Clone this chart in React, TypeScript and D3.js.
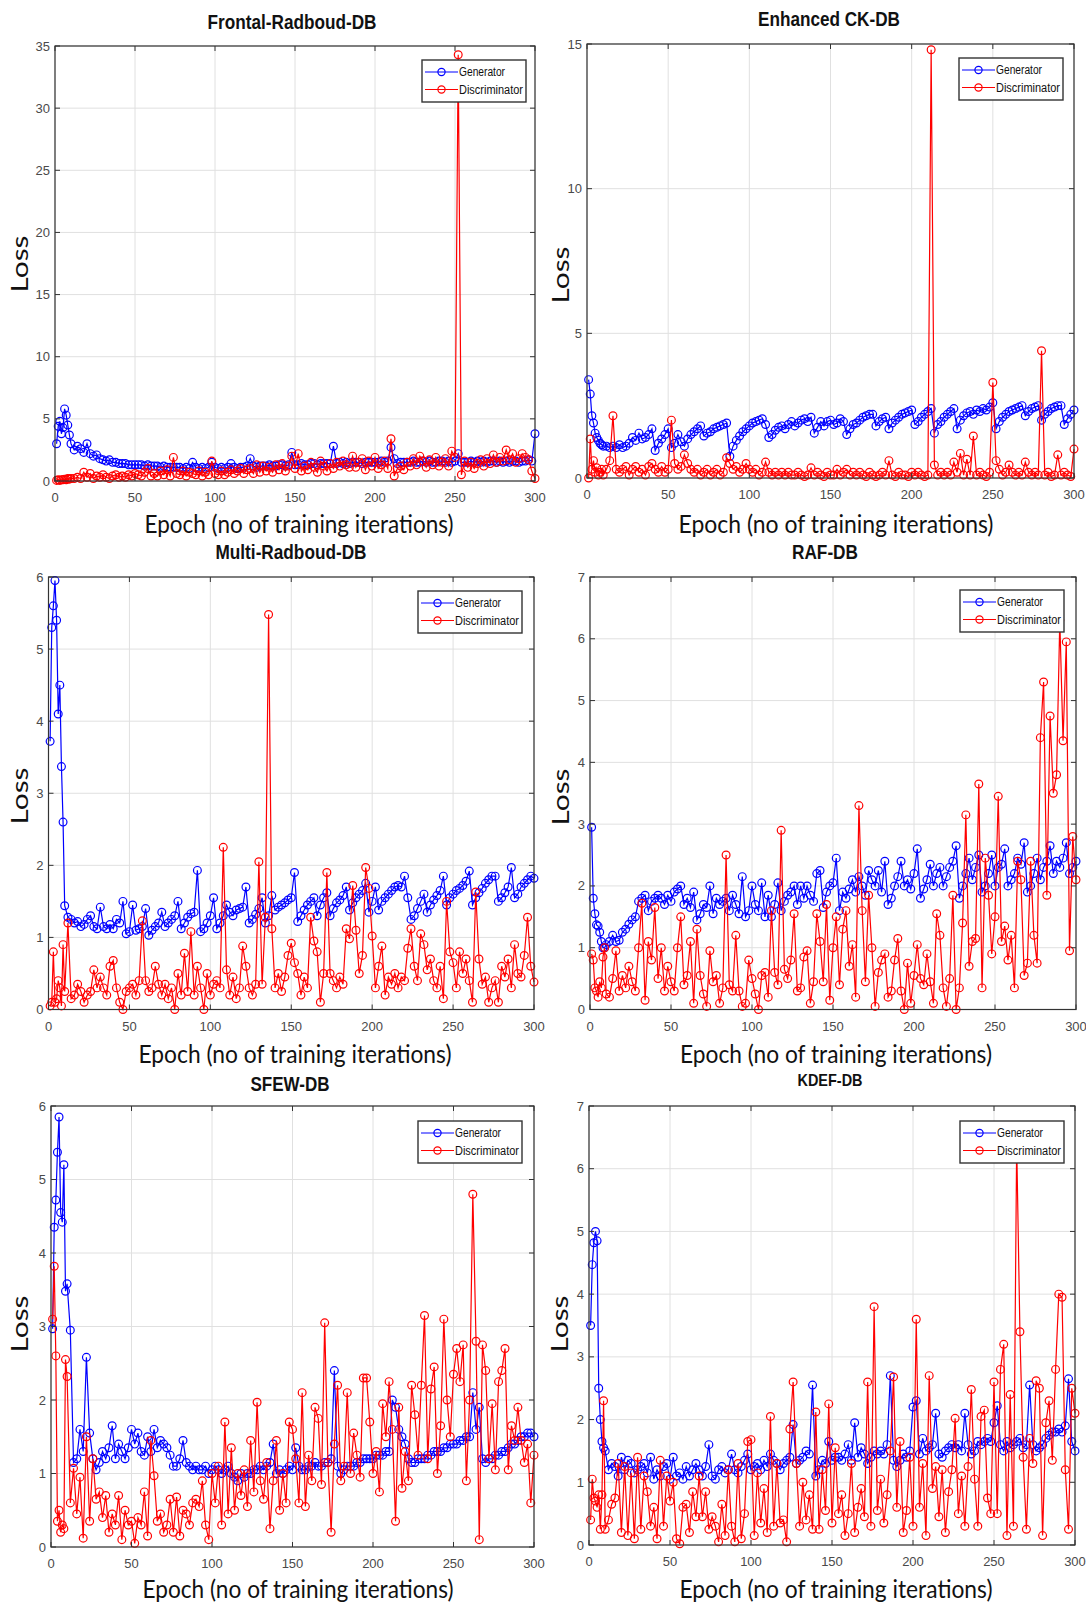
import React from 'react';
import * as d3 from 'd3';

// Epoch positions of the plotted samples (dense for the first 10 epochs)
const EPOCHS: number[] = [...d3.range(1, 11), ...d3.range(12, 301, 2)];
const X_TICKS = [0, 50, 100, 150, 200, 250, 300];
const LEGEND_LABELS = ['Generator', 'Discriminator'];
const X_LABEL = 'Epoch (no of training iterations)';
const Y_LABEL = 'Loss';

const frontalGen = [
  3.0, 4.4, 4.8, 3.8, 4.3, 5.8, 5.3, 4.5, 3.7, 3.0,
  2.5, 2.8, 2.6, 2.3, 3.0, 2.2, 2.0, 2.1, 1.8, 1.7,
  1.6, 1.7, 1.5, 1.5, 1.4, 1.4, 1.4, 1.3, 1.3, 1.3,
  1.3, 1.3, 1.2, 1.3, 1.2, 1.2, 1.2, 1.1, 1.2, 1.1,
  1.1, 1.1, 1.1, 1.1, 1.0, 1.1, 1.0, 1.5, 1.1, 1.0,
  1.1, 1.0, 1.1, 1.5, 1.1, 1.0, 1.1, 1.0, 1.1, 1.4,
  1.1, 1.0, 1.1, 1.1, 1.2, 1.8, 1.2, 1.1, 1.2, 1.2,
  1.2, 1.3, 1.2, 1.2, 1.3, 1.3, 1.2, 1.3, 2.3, 1.3,
  1.3, 1.4, 1.3, 1.3, 1.4, 1.4, 1.3, 1.4, 1.4, 1.4,
  1.4, 2.8, 1.4, 1.5, 1.4, 1.5, 1.4, 1.5, 1.5, 1.5,
  1.4, 1.5, 1.5, 1.5, 1.5, 1.5, 1.6, 1.5, 1.6, 2.7,
  1.8, 1.4, 1.5, 1.5, 1.5, 1.5, 1.6, 1.5, 1.5, 1.6,
  1.5, 1.6, 1.5, 1.5, 1.6, 1.6, 1.5, 1.6, 1.5, 1.6,
  2.2, 1.5, 1.5, 1.5, 1.6, 1.5, 1.6, 1.5, 1.6, 1.5,
  1.6, 1.6, 1.5, 1.6, 1.5, 1.6, 1.5, 1.6, 1.6, 1.5,
  1.6, 1.6, 1.7, 1.6, 3.8,
];
const frontalDis = [
  0.05, 0.1, 0.05, 0.1, 0.1, 0.15, 0.1, 0.2, 0.15, 0.2,
  0.2, 0.3, 0.2, 0.7, 0.3, 0.6, 0.2, 0.4, 0.3, 0.5,
  0.3, 0.2, 0.4, 0.5, 0.3, 0.4, 0.3, 0.5, 0.4, 0.6,
  0.5, 0.4, 0.7, 1.0, 0.4, 0.6, 0.4, 0.8, 0.5, 0.9,
  0.4, 1.9, 0.6, 0.5, 0.8, 0.4, 0.7, 0.6, 0.5, 0.8,
  0.4, 0.7, 0.5, 1.6, 0.6, 0.5, 0.8, 0.5, 0.7, 0.9,
  0.6, 0.8, 1.0, 0.6, 0.9, 1.0, 0.6, 1.3, 0.7, 1.2,
  0.8, 1.1, 0.7, 1.3, 0.9, 1.4, 0.8, 1.2, 2.0, 1.0,
  2.2, 0.8, 1.2, 0.9, 1.5, 1.1, 0.7, 1.6, 1.2, 0.8,
  1.4, 1.0, 1.5, 1.2, 1.6, 1.3, 1.1, 2.0, 1.1, 1.5,
  1.8, 0.9, 1.6, 1.2, 1.9, 1.0, 1.3, 1.6, 1.0, 3.4,
  0.4, 1.0, 1.2, 0.9, 1.5, 1.2, 1.8, 1.3, 2.0, 1.6,
  1.1, 1.7, 1.3, 1.9, 1.2, 1.5, 1.8, 1.2, 2.4, 1.9,
  34.3, 0.5, 1.6, 1.1, 1.5, 1.0, 1.4, 1.7, 1.2, 1.8,
  1.4, 2.1, 1.5, 1.9, 1.6, 2.5, 1.7, 2.2, 1.5, 1.8,
  2.2, 1.9, 1.7, 0.8, 0.2,
];

const ckGen = [
  3.4, 2.9, 2.15, 1.9, 1.55, 1.4, 1.3, 1.2, 1.15, 1.1,
  1.1, 1.05, 1.1, 1.05, 1.15, 1.05, 1.1, 1.2, 1.4, 1.3,
  1.55, 1.35, 1.4, 1.5, 1.7, 0.95, 1.2, 1.35, 1.5, 1.7,
  1.05, 1.2, 1.5, 1.25, 1.1, 1.35, 1.5, 1.6, 1.7, 1.8,
  1.45, 1.55, 1.6, 1.7, 1.75, 1.8, 1.85, 1.9, 0.75, 1.1,
  1.3, 1.45, 1.6, 1.7, 1.8, 1.9, 1.95, 2.0, 2.05, 1.85,
  1.4, 1.5, 1.65, 1.75, 1.8, 1.7, 1.85, 1.95, 1.8, 1.9,
  2.0, 2.05, 1.95, 2.1, 1.55, 1.75, 1.95, 1.8, 1.95, 2.0,
  1.85, 1.9, 2.05, 1.95, 1.5, 1.7, 1.85, 1.9, 2.0, 2.1,
  2.15, 2.2, 2.2, 1.8, 1.95, 2.05, 2.1, 1.7, 1.9, 2.0,
  2.1, 2.2, 2.25, 2.3, 2.35, 1.85, 1.95, 2.1, 2.2, 2.3,
  2.4, 1.55, 1.85, 1.95, 2.1, 2.2, 2.3, 2.4, 1.7, 2.0,
  2.15, 2.25, 2.3, 2.2, 2.35, 2.3, 2.4, 2.35, 2.45, 2.6,
  1.7, 1.95, 2.1, 2.2, 2.3, 2.35, 2.4, 2.45, 2.5, 2.15,
  2.3, 2.4, 2.45, 2.5, 2.0, 2.2, 2.3, 2.4, 2.45, 2.5,
  2.5, 1.85, 2.05, 2.2, 2.35,
];
const ckDis = [
  0.0, 1.35, 0.3, 0.6, 0.2, 0.35, 0.1, 0.2, 0.3, 0.1,
  0.3, 0.6, 2.15, 0.3, 0.2, 0.3, 0.4, 0.1, 0.3, 0.4,
  0.2, 0.3, 0.1, 0.4, 0.5, 0.3, 0.2, 0.4, 0.2, 0.3,
  2.0, 0.5, 0.3, 0.4, 0.8, 0.5, 0.3, 0.2, 0.3, 0.1,
  0.2, 0.3, 0.1, 0.2, 0.3, 0.1, 0.2, 0.7, 0.5, 0.3,
  0.4, 0.2, 0.3, 0.5, 0.3, 0.2, 0.3, 0.1, 0.2, 0.55,
  0.2, 0.1, 0.2, 0.1, 0.2, 0.1, 0.2, 0.1, 0.1, 0.2,
  0.1, 0.05, 0.1, 0.35, 0.1, 0.2, 0.1, 0.05, 0.2, 0.1,
  0.1, 0.3, 0.1, 0.2, 0.3, 0.1, 0.2, 0.1, 0.2, 0.1,
  0.05, 0.2, 0.1, 0.05, 0.1, 0.2, 0.1, 0.6, 0.1, 0.05,
  0.2, 0.1, 0.1, 0.05, 0.2, 0.1, 0.2, 0.1, 0.05, 0.1,
  14.8, 0.45, 0.1, 0.2, 0.1, 0.2, 0.1, 0.55, 0.2, 0.85,
  0.1, 0.65, 0.1, 1.45, 0.1, 0.2, 0.1, 0.05, 0.2, 3.3,
  0.6, 0.3, 0.1, 0.2, 0.45, 0.2, 0.1, 0.2, 0.1, 0.55,
  0.2, 0.1, 0.2, 0.1, 4.4, 0.1, 0.2, 0.05, 0.1, 0.8,
  0.1, 0.2, 0.1, 0.05, 1.0,
];

const multiGen = [
  3.72, 5.3, 5.6, 5.95, 5.4, 4.1, 4.5, 3.37, 2.6, 1.44,
  1.28, 1.25, 1.2, 1.22, 1.15, 1.18, 1.25, 1.3, 1.15, 1.12,
  1.42, 1.15, 1.12, 1.18, 1.12, 1.25, 1.2, 1.5, 1.05, 1.08,
  1.45, 1.1, 1.12, 1.15, 1.4, 1.03, 1.1, 1.15, 1.2, 1.35,
  1.15, 1.2, 1.25, 1.3, 1.5, 1.12, 1.2, 1.28, 1.33, 1.35,
  1.93, 1.08, 1.12, 1.2, 1.3, 1.55, 1.12, 1.2, 1.3, 1.45,
  1.35, 1.3, 1.38, 1.4, 1.42, 1.7, 1.2, 1.25, 1.32, 1.4,
  1.55, 1.2, 1.3, 1.58, 1.38, 1.42, 1.45, 1.48, 1.52, 1.55,
  1.9, 1.22, 1.3, 1.38, 1.45, 1.5, 1.55, 1.3, 1.45, 1.55,
  1.62, 1.3, 1.4, 1.48, 1.52, 1.58, 1.7, 1.38, 1.48, 1.55,
  1.6, 1.65, 1.75, 1.35, 1.5, 1.7, 1.38, 1.5, 1.55, 1.6,
  1.65, 1.7, 1.72, 1.7, 1.85, 1.55, 1.25, 1.3, 1.4, 1.5,
  1.6, 1.35, 1.45, 1.52, 1.58, 1.65, 1.85, 1.45, 1.55, 1.6,
  1.65, 1.68, 1.72, 1.78, 1.92, 1.45, 1.55, 1.62, 1.68, 1.75,
  1.8, 1.85, 1.85, 1.5, 1.55, 1.62, 1.7, 1.97, 1.55, 1.6,
  1.7, 1.75, 1.8, 1.85, 1.82,
];
const multiDis = [
  0.05, 0.1, 0.8, 0.1, 0.15, 0.4, 0.3, 0.05, 0.9, 0.25,
  1.2, 0.15, 0.2, 0.35, 0.25, 0.1, 0.2, 0.25, 0.55, 0.3,
  0.45, 0.3, 0.2, 0.6, 0.68, 0.3, 0.1, 0.0, 0.25, 0.3,
  0.35, 0.2, 0.4, 1.23, 0.4, 0.25, 0.3, 0.6, 0.35, 0.2,
  0.35, 0.15, 0.3, 0.0, 0.5, 0.2, 0.78, 0.25, 1.08, 0.2,
  0.6, 0.3, 0.0, 0.5, 0.2, 0.35, 0.4, 0.3, 2.25, 0.55,
  0.2, 0.45, 0.15, 0.3, 0.88, 0.6, 0.3, 0.2, 0.35, 2.05,
  0.35, 1.28, 5.48, 1.12, 0.3, 0.5, 0.25, 0.45, 0.75, 0.92,
  0.65, 0.5, 0.2, 0.45, 0.3, 1.28, 0.95, 0.8, 0.1, 0.5,
  1.9, 0.5, 0.4, 0.3, 0.45, 0.35, 1.12, 0.98, 1.72, 1.1,
  0.5, 0.75, 1.97, 1.68, 1.02, 0.3, 0.6, 0.88, 0.2, 0.45,
  0.35, 0.5, 0.3, 0.45, 0.4, 0.85, 1.12, 0.6, 0.4, 1.05,
  0.9, 0.55, 0.7, 0.4, 0.3, 0.6, 0.15, 1.5, 0.8, 0.65,
  0.3, 0.8, 0.5, 0.7, 0.4, 0.1, 1.63, 0.7, 0.35, 0.45,
  0.1, 0.3, 0.4, 0.1, 0.6, 0.45, 0.7, 0.3, 0.9, 0.5,
  0.45, 0.75, 1.28, 0.6, 0.38,
];

const rafGen = [
  2.95, 1.8, 1.55, 1.37, 1.35, 1.25, 1.1, 1.0, 1.0, 1.05,
  1.1, 1.2, 1.1, 1.12, 1.25, 1.3, 1.38, 1.45, 1.5, 1.75,
  1.8, 1.85, 1.6, 1.75, 1.8, 1.85, 1.8, 1.7, 1.85, 1.75,
  1.9, 1.95, 2.0, 1.7, 1.8, 1.65, 1.9, 1.45, 1.55, 1.7,
  1.65, 2.0, 1.55, 1.8, 1.7, 1.75, 1.8, 1.6, 1.85, 1.7,
  1.55, 2.15, 1.5, 1.6, 2.0, 1.7, 1.6, 2.05, 1.5, 1.85,
  1.5, 1.7, 2.05, 1.6, 1.75, 1.85, 1.9, 2.0, 1.7, 2.0,
  1.8, 2.0, 1.85, 1.75, 2.2, 2.25, 1.65, 1.9, 2.0, 2.05,
  2.45, 1.6, 1.9, 1.8, 1.95, 2.1, 1.9, 2.15, 2.0, 1.85,
  2.25, 2.1, 2.0, 2.25, 1.9, 2.4, 1.7, 1.8, 2.0, 2.15,
  2.4, 2.0, 2.1, 1.95, 2.2, 2.6, 1.8, 1.95, 2.1, 2.35,
  2.0, 2.2, 2.3, 2.0, 2.15, 2.3, 2.4, 2.65, 1.8, 2.0,
  2.2, 2.45, 2.1, 2.3, 2.5, 1.9, 2.0, 2.2, 2.5, 2.0,
  2.3, 2.35, 2.6, 2.0, 2.1, 2.2, 2.45, 2.35, 2.7, 1.9,
  2.0, 2.2, 2.45, 2.1, 2.3, 2.4, 2.65, 2.2, 2.4, 2.3,
  2.45, 2.7, 2.2, 2.3, 2.4,
];
const rafDis = [
  0.9, 0.8, 0.35, 0.3, 0.2, 0.45, 0.35, 0.85, 1.0, 0.25,
  0.2, 0.5, 0.95, 0.3, 0.55, 0.35, 0.7, 0.45, 0.3, 1.0,
  1.72, 0.15, 1.1, 0.8, 1.65, 0.5, 1.0, 0.3, 0.7, 0.45,
  0.3, 1.0, 1.5, 0.4, 0.55, 1.1, 0.1, 1.3, 0.55, 0.25,
  0.05, 0.95, 0.45, 0.55, 0.1, 0.35, 2.5, 0.4, 0.3, 1.2,
  0.3, 0.05, 0.1, 0.8, 0.5, 0.25, 0.0, 0.55, 0.6, 0.2,
  1.6, 0.6, 0.4, 2.9, 0.65, 0.5, 0.8, 1.55, 0.3, 0.35,
  0.85, 0.95, 0.1, 0.45, 1.55, 1.1, 0.45, 1.7, 0.15, 1.0,
  1.5, 0.4, 1.3, 1.6, 0.7, 1.05, 0.2, 3.3, 1.6, 0.45,
  1.85, 1.0, 0.05, 0.6, 0.8, 0.9, 0.2, 0.3, 0.8, 1.15,
  0.3, 0.0, 0.75, 0.1, 0.55, 1.05, 0.5, 0.4, 0.9, 0.45,
  0.1, 1.55, 1.2, 0.35, 0.05, 0.5, 1.85, 0.0, 0.35, 1.4,
  3.15, 0.7, 1.1, 1.15, 3.65, 0.35, 2.45, 1.85, 0.9, 1.5,
  3.45, 1.1, 1.35, 0.8, 1.2, 0.35, 2.4, 2.1, 0.55, 0.75,
  2.4, 1.2, 0.75, 4.4, 5.3, 1.85, 4.75, 3.5, 3.8, 6.3,
  4.35, 5.95, 0.95, 2.8, 2.1,
];

const sfewGen = [
  2.97, 4.35, 4.72, 5.37, 5.85, 4.55, 4.42, 5.2, 3.48, 3.58,
  2.95, 1.15, 1.2, 1.6, 1.3, 2.58, 1.55, 1.2, 1.05, 1.15,
  1.3, 1.2, 1.35, 1.65, 1.2, 1.4, 1.3, 1.2, 1.35, 1.6,
  1.4, 1.55, 1.3, 1.25, 1.5, 1.3, 1.6, 1.35, 1.45, 1.4,
  1.35, 1.25, 1.1, 1.1, 1.2, 1.45, 1.15, 1.1, 1.05, 1.1,
  1.05, 1.05, 1.1, 1.0, 1.05, 1.1, 1.05, 1.0, 1.05, 1.1,
  1.0, 0.95, 0.9, 1.0, 0.95, 1.0, 1.0, 1.05, 1.05, 1.1,
  1.05, 1.1, 1.15, 1.4, 1.0, 1.05, 1.0, 1.05, 1.1, 1.05,
  1.35, 1.1, 1.05, 1.05, 1.1, 1.1, 1.15, 1.1, 1.1, 1.15,
  1.15, 1.2, 2.4, 1.1, 1.0, 1.05, 1.1, 1.1, 1.1, 1.15,
  1.15, 1.2, 1.2, 1.2, 1.2, 1.25, 1.25, 1.25, 1.3, 1.3,
  2.0, 1.9, 1.6, 1.5, 1.4, 1.2, 1.15, 1.15, 1.2, 1.2,
  1.2, 1.25, 1.25, 1.3, 1.3, 1.3, 1.35, 1.35, 1.4, 1.4,
  1.4, 1.45, 1.45, 1.5, 1.5, 2.1, 1.6, 1.9, 1.2, 1.15,
  1.2, 1.2, 1.25, 1.25, 1.3, 1.3, 1.35, 1.4, 1.4, 1.45,
  1.5, 1.5, 1.55, 1.55, 1.5,
];
const sfewDis = [
  3.1, 3.82, 2.6, 0.35, 0.5, 0.2, 0.3, 0.25, 2.55, 2.32,
  0.6, 1.07, 0.45, 0.95, 0.12, 1.5, 0.35, 1.2, 0.65, 0.75,
  0.4, 0.7, 0.2, 0.45, 0.3, 0.7, 0.1, 0.5, 0.3, 0.35,
  0.05, 0.4, 0.3, 0.75, 0.15, 1.45, 0.97, 0.35, 0.45, 0.2,
  0.3, 0.65, 0.2, 0.68, 0.15, 0.5, 0.45, 0.3, 0.6, 0.65,
  0.55, 0.9, 0.3, 0.1, 1.0, 0.6, 1.1, 0.3, 1.7, 0.45,
  1.35, 0.5, 1.0, 0.7, 1.05, 0.55, 1.45, 0.75, 1.97, 0.9,
  0.65, 1.15, 0.25, 0.9, 1.45, 0.5, 1.0, 0.6, 1.7, 1.6,
  1.2, 0.6, 2.1, 0.55, 1.25, 0.9, 1.9, 1.75, 0.85, 3.05,
  1.15, 0.2, 1.4, 2.2, 0.9, 1.1, 2.1, 1.0, 1.55, 1.25,
  0.95, 2.3, 2.3, 1.7, 1.0, 1.3, 0.75, 1.95, 1.5, 2.25,
  1.6, 0.35, 1.9, 0.8, 1.3, 0.9, 2.2, 1.8, 1.25, 2.2,
  3.15, 1.2, 2.15, 2.45, 1.0, 1.65, 3.1, 2.0, 1.5, 2.35,
  2.7, 2.25, 2.75, 0.9, 2.0, 4.8, 2.8, 0.1, 2.75, 2.4,
  1.2, 1.95, 1.05, 2.25, 2.4, 2.7, 1.05, 1.65, 1.45, 1.9,
  1.45, 1.15, 1.4, 0.6, 1.25,
];

const kdefGen = [
  3.5, 4.47, 4.82, 5.0, 4.85, 2.5, 2.0, 1.65, 1.55, 1.5,
  1.2, 1.3, 1.25, 1.1, 1.4, 1.2, 1.35, 1.3, 1.15, 1.2,
  1.25, 1.3, 1.15, 1.4, 1.05, 1.2, 1.1, 1.25, 1.3, 1.05,
  1.4, 1.1, 1.15, 1.05, 1.25, 1.1, 1.2, 1.3, 1.2, 1.1,
  1.25, 1.6, 1.1, 1.05, 1.2, 1.25, 1.15, 1.2, 1.45, 1.2,
  1.15, 1.25, 1.35, 1.45, 1.2, 1.25, 1.3, 1.2, 1.35, 1.25,
  1.45, 1.35, 1.3, 1.2, 1.3, 1.35, 1.4, 1.92, 1.3, 1.35,
  1.4, 1.5, 1.45, 2.55, 1.1, 1.2, 1.35, 1.3, 1.65, 1.35,
  1.4, 1.4, 1.35, 1.45, 1.6, 1.35, 1.95, 1.4, 1.55, 1.45,
  1.3, 1.4, 1.5, 1.45, 1.5, 1.45, 1.6, 2.7, 1.35, 1.25,
  1.35, 1.45, 1.4, 1.5, 2.2, 2.3, 1.45, 1.7, 1.5, 1.55,
  1.6, 2.1, 1.45, 1.4, 1.5, 1.55, 1.6, 1.55, 1.6, 1.5,
  2.1, 1.6, 1.45, 1.5, 1.65, 1.6, 1.65, 1.7, 1.65, 1.95,
  2.22, 1.6, 1.5, 1.65, 1.55, 1.6, 1.65, 1.7, 1.55, 1.6,
  2.55, 1.6, 1.5, 1.55, 1.6, 1.7, 1.75, 1.8, 1.8, 1.85,
  1.8, 1.9, 2.65, 1.65, 1.5,
];
const kdefDis = [
  0.4, 1.05, 0.75, 0.7, 0.6, 0.8, 0.25, 0.8, 2.3, 0.25,
  0.4, 0.65, 0.75, 1.3, 0.2, 1.25, 0.15, 1.15, 0.1, 1.4,
  0.25, 1.1, 0.85, 0.3, 0.6, 0.1, 1.35, 0.3, 1.1, 0.7,
  1.0, 0.1, 0.02, 0.6, 0.65, 0.2, 0.85, 0.45, 1.1, 0.45,
  0.85, 0.25, 0.45, 0.3, 0.05, 0.65, 0.15, 1.2, 0.3, 0.05,
  1.3, 0.1, 0.5, 1.65, 1.68, 0.15, 1.15, 0.35, 0.9, 0.2,
  2.05, 0.3, 1.3, 0.35, 0.4, 0.05, 1.85, 2.6, 1.3, 0.3,
  1.0, 0.4, 0.8, 0.25, 2.12, 0.25, 1.2, 0.55, 2.25, 0.35,
  1.55, 0.5, 0.8, 0.15, 0.5, 1.3, 0.2, 0.6, 0.9, 0.45,
  2.6, 0.3, 3.8, 0.55, 1.05, 0.35, 0.8, 1.5, 2.68, 0.6,
  1.65, 0.2, 0.55, 1.4, 0.3, 3.6, 0.6, 1.3, 0.15, 2.7,
  0.9, 1.25, 0.45, 1.2, 0.2, 0.85, 1.2, 2.02, 0.5, 1.1,
  0.3, 1.25, 2.48, 1.05, 0.3, 2.05, 2.15, 0.75, 0.5, 2.6,
  0.5, 2.8, 3.2, 0.15, 2.4, 0.3, 6.4, 3.4, 1.4, 0.25,
  1.7, 1.3, 2.62, 2.5, 0.15, 1.95, 2.3, 1.35, 2.8, 4.0,
  3.95, 1.2, 0.25, 2.5, 2.1,
];

const TITLES = ['Frontal-Radboud-DB', 'Enhanced CK-DB', 'Multi-Radboud-DB', 'RAF-DB', 'SFEW-DB', 'KDEF-DB'];
const Y_MAX = [35, 15, 6, 7, 6, 7];
const Y_STEP = [5, 5, 1, 1, 1, 1];
const GEN_SERIES = [frontalGen, ckGen, multiGen, rafGen, sfewGen, kdefGen];
const DIS_SERIES = [frontalDis, ckDis, multiDis, rafDis, sfewDis, kdefDis];

// Layout (pixel geometry of each panel)
const LAYOUT = [
  { l: 55, r: 535, t: 46, b: 481, titleX: 292, titleY: 29, titleW: 169, titleFs: 20, xlX: 299, xlY: 533, xlW: 309, lossX: 28, lossY: 264, legX: 422, legY: 60 },
  { l: 587, r: 1074, t: 44, b: 478, titleX: 829, titleY: 26, titleW: 142, titleFs: 20, xlX: 836, xlY: 533, xlW: 315, lossX: 569, lossY: 275, legX: 959, legY: 58 },
  { l: 48.5, r: 534, t: 577, b: 1009.5, titleX: 291, titleY: 559, titleW: 151, titleFs: 20, xlX: 295, xlY: 1063, xlW: 313, lossX: 28, lossY: 796, legX: 418, legY: 591 },
  { l: 590, r: 1076, t: 577, b: 1009.5, titleX: 825, titleY: 559, titleW: 66, titleFs: 20, xlX: 836, xlY: 1063, xlW: 312, lossX: 569, lossY: 797, legX: 960, legY: 590 },
  { l: 51, r: 534, t: 1106, b: 1547, titleX: 290, titleY: 1091, titleW: 79, titleFs: 20, xlX: 298, xlY: 1598, xlW: 311, lossX: 28, lossY: 1324, legX: 418, legY: 1121 },
  { l: 589, r: 1075, t: 1106, b: 1545, titleX: 830, titleY: 1086, titleW: 65, titleFs: 17, xlX: 836, xlY: 1598, xlW: 313, lossX: 568, lossY: 1324, legX: 960, legY: 1121 },
];

const BLUE = '#0000ff';
const RED = '#ff0000';
const AX = '#333333';
const GRID = '#e0e0e0';
const TXT = '#4a4a4a';
const MARKER_R = 3.9;

function Series({ values, x, y, color }: { values: number[]; x: any; y: any; color: string }) {
  const line = d3.line<number>().x((_, i) => x(EPOCHS[i])).y((d) => y(d));
  return (
    <g>
      <path d={line(values) || ''} fill="none" stroke={color} strokeWidth={1.2} />
      {values.map((v, i) => (
        <circle key={i} cx={x(EPOCHS[i])} cy={y(v)} r={MARKER_R} fill="none" stroke={color} strokeWidth={1.2} />
      ))}
    </g>
  );
}

function Panel({ idx }: { idx: number }) {
  const L = LAYOUT[idx];
  const yMax = Y_MAX[idx];
  const x = d3.scaleLinear().domain([0, 300]).range([L.l, L.r]);
  const y = d3.scaleLinear().domain([0, yMax]).range([L.b, L.t]);
  const yTicks = d3.range(0, yMax + 0.001, Y_STEP[idx]);
  const tl = 5;
  const legW = 104;
  const legH = 42;
  return (
    <g>
      {X_TICKS.map((t) => (
        <line key={'gx' + t} x1={x(t)} x2={x(t)} y1={L.t} y2={L.b} stroke={GRID} strokeWidth={1} />
      ))}
      {yTicks.map((t) => (
        <line key={'gy' + t} x1={L.l} x2={L.r} y1={y(t)} y2={y(t)} stroke={GRID} strokeWidth={1} />
      ))}
      <Series values={GEN_SERIES[idx]} x={x} y={y} color={BLUE} />
      <Series values={DIS_SERIES[idx]} x={x} y={y} color={RED} />
      <rect x={L.l} y={L.t} width={L.r - L.l} height={L.b - L.t} fill="none" stroke={AX} strokeWidth={1.2} />
      {X_TICKS.map((t) => (
        <g key={'tx' + t}>
          <line x1={x(t)} x2={x(t)} y1={L.b} y2={L.b - tl} stroke={AX} />
          <line x1={x(t)} x2={x(t)} y1={L.t} y2={L.t + tl} stroke={AX} />
          <text x={x(t)} y={L.b + 21} textAnchor="middle" fontSize={13} fill={TXT} fontFamily="'Liberation Sans', Arial, sans-serif">
            {t}
          </text>
        </g>
      ))}
      {yTicks.map((t) => (
        <g key={'ty' + t}>
          <line x1={L.l} x2={L.l + tl} y1={y(t)} y2={y(t)} stroke={AX} />
          <line x1={L.r} x2={L.r - tl} y1={y(t)} y2={y(t)} stroke={AX} />
          <text x={L.l - 5} y={y(t) + 4.5} textAnchor="end" fontSize={13} fill={TXT} fontFamily="'Liberation Sans', Arial, sans-serif">
            {t}
          </text>
        </g>
      ))}
      <text x={L.titleX} y={L.titleY} textAnchor="middle" fontSize={L.titleFs} fontWeight="bold" fill="#111"
        fontFamily="'Liberation Sans', Arial, sans-serif" textLength={L.titleW} lengthAdjust="spacingAndGlyphs">
        {TITLES[idx]}
      </text>
      <text x={L.xlX} y={L.xlY} textAnchor="middle" fontSize={25} fill="#111" fontFamily="Lato, 'Open Sans', sans-serif"
        textLength={L.xlW} lengthAdjust="spacingAndGlyphs">
        {X_LABEL}
      </text>
      <text transform={`translate(${L.lossX},${L.lossY}) rotate(-90)`} textAnchor="middle" fontSize={23} fill="#111"
        fontFamily="Lato, 'Open Sans', sans-serif" textLength={57} lengthAdjust="spacingAndGlyphs">
        {Y_LABEL}
      </text>
      <g transform={`translate(${L.legX},${L.legY})`}>
        <rect x={0} y={0} width={legW} height={legH} fill="#fff" stroke="#333" strokeWidth={1.4} />
        {LEGEND_LABELS.map((lab, k) => {
          const cy = 12 + k * 17.5;
          const c = k === 0 ? BLUE : RED;
          return (
            <g key={lab}>
              <line x1={3} x2={36} y1={cy} y2={cy} stroke={c} strokeWidth={1.2} />
              <circle cx={19.5} cy={cy} r={3.6} fill="none" stroke={c} strokeWidth={1.2} />
              <text x={37} y={cy + 4} fontSize={12} fill="#111" fontFamily="'Liberation Sans', Arial, sans-serif"
                textLength={k === 0 ? 46 : 64} lengthAdjust="spacingAndGlyphs">
                {lab}
              </text>
            </g>
          );
        })}
      </g>
    </g>
  );
}

export default function App() {
  return (
    <svg width={1086} height={1604} style={{ position: 'absolute', left: 0, top: 0, background: '#fff' }}>
      <rect x={0} y={0} width={1086} height={1604} fill="#fff" />
      {TITLES.map((_, i) => (
        <Panel key={i} idx={i} />
      ))}
    </svg>
  );
}
